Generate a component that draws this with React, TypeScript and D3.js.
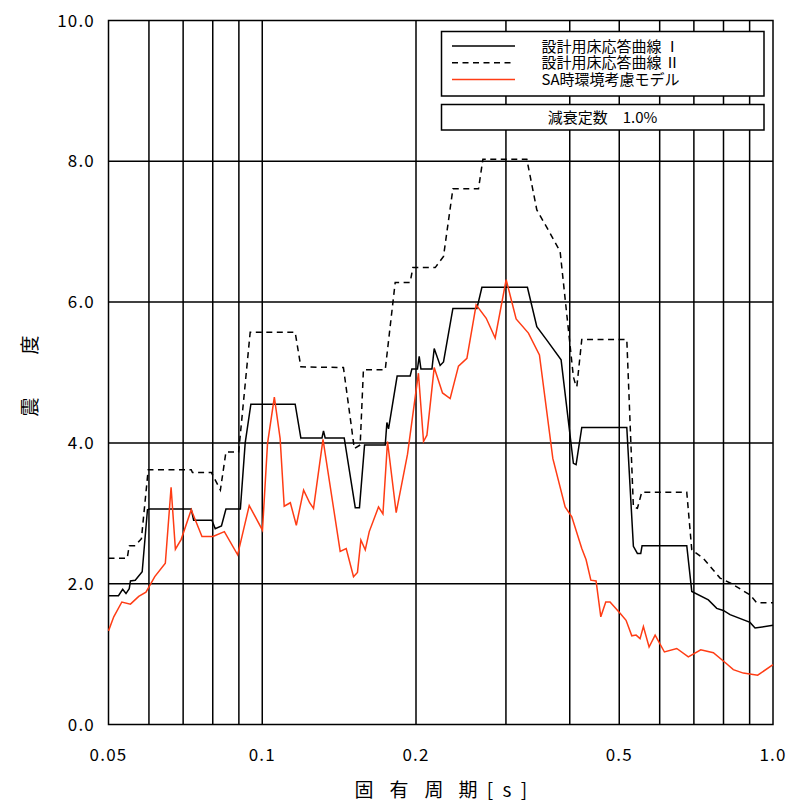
import React from "react";
import * as d3 from "d3";

const periodsI = [0.05,0.0523,0.0533,0.0541,0.0549,0.0552,0.0564,0.0582,0.0596,0.0602,0.0726,0.0734,0.0797,0.0809,0.0832,0.0849,0.0906,0.0926,0.095,0.116,0.119,0.1309,0.1318,0.1328,0.1447,0.1521,0.155,0.1586,0.1741,0.1754,0.1767,0.1837,0.1948,0.1963,0.2013,0.2029,0.2045,0.2149,0.2171,0.223,0.2264,0.2362,0.2632,0.2692,0.3305,0.3448,0.3607,0.3847,0.4066,0.4116,0.4223,0.5173,0.5329,0.5426,0.5509,0.5542,0.6779,0.6934,0.7472,0.776,0.7994,0.824,0.9016,0.9222,1.0];
const valuesI = [1.83,1.83,1.92,1.86,1.93,2.04,2.05,2.17,3.05,3.06,3.06,2.9,2.9,2.78,2.82,3.06,3.06,4.0,4.55,4.55,4.07,4.07,4.17,4.07,4.07,3.08,3.08,3.97,3.97,4.29,4.2,4.95,4.95,5.05,5.05,5.23,5.05,5.05,5.34,5.1,5.15,5.91,5.91,6.21,6.21,5.65,5.46,5.18,3.71,3.69,4.22,4.22,2.53,2.43,2.43,2.54,2.54,1.89,1.77,1.65,1.62,1.56,1.45,1.37,1.41];

const periodsII = [0.05,0.0544,0.0549,0.0564,0.058,0.0598,0.0726,0.073,0.0795,0.0828,0.0849,0.0899,0.0947,0.116,0.119,0.1442,0.1498,0.1514,0.1555,0.1578,0.1741,0.1821,0.1948,0.1972,0.2181,0.2264,0.2362,0.2651,0.2704,0.3296,0.3448,0.3633,0.383,0.4066,0.4116,0.413,0.4223,0.5173,0.5329,0.5426,0.5534,0.6779,0.6934,0.7305,0.7877,0.8302,0.9016,0.9292,1.0];
const valuesII = [2.36,2.36,2.54,2.54,2.64,3.62,3.62,3.58,3.58,3.33,3.87,3.87,5.57,5.57,5.08,5.07,4.18,3.92,3.97,5.04,5.04,6.28,6.28,6.49,6.49,6.65,7.61,7.61,8.03,8.03,7.31,7.02,6.72,4.94,4.8,4.8,5.47,5.47,3.09,3.07,3.3,3.3,2.48,2.36,2.08,2.0,1.84,1.73,1.73];

const periodsSA = [0.05,0.0512,0.0531,0.0552,0.0573,0.0592,0.0616,0.0646,0.0663,0.0676,0.0694,0.0726,0.0762,0.0801,0.0843,0.0895,0.0943,0.1001,0.1024,0.1056,0.1084,0.1104,0.1135,0.1166,0.1205,0.1238,0.126,0.1315,0.1421,0.146,0.1509,0.1536,0.156,0.1591,0.162,0.1689,0.1723,0.1759,0.1829,0.1925,0.2022,0.2069,0.2101,0.2171,0.2254,0.2333,0.2422,0.2516,0.2623,0.2745,0.2858,0.3003,0.3141,0.332,0.3489,0.3706,0.3918,0.4037,0.4223,0.4306,0.4399,0.4504,0.4601,0.4705,0.4797,0.5019,0.5156,0.5291,0.5395,0.5492,0.5575,0.572,0.5878,0.6129,0.648,0.6827,0.722,0.7643,0.8091,0.8362,0.8747,0.9333,1.0];
const valuesSA = [1.33,1.53,1.74,1.71,1.82,1.88,2.1,2.29,3.37,2.49,2.63,3.05,2.67,2.67,2.74,2.41,3.11,2.76,3.99,4.65,4.06,3.1,3.15,2.83,3.33,3.15,3.07,4.05,2.46,2.5,2.1,2.16,2.62,2.48,2.74,3.09,2.99,4.02,3.01,3.84,4.99,4.02,4.11,5.07,4.71,4.63,5.09,5.2,5.96,5.77,5.49,6.32,5.76,5.56,5.25,3.78,3.09,2.95,2.5,2.34,2.05,2.04,1.53,1.74,1.74,1.58,1.48,1.26,1.27,1.22,1.39,1.1,1.27,1.03,1.08,0.96,1.06,1.02,0.87,0.78,0.73,0.7,0.85];

const xGrid = [0.06,0.07,0.08,0.09,0.1,0.2,0.3,0.4,0.5,0.6,0.7,0.8,0.9];
const xTicks = [0.05,0.1,0.2,0.5,1.0];
const xTickLabels = ["0.05","0.1","0.2","0.5","1.0"];
const yTicks = [0,2,4,6,8,10];
const yTickLabels = ["0.0","2.0","4.0","6.0","8.0","10.0"];
const legendLabels = ["設計用床応答曲線 Ⅰ","設計用床応答曲線 Ⅱ","SA時環境考慮モデル"];
const dampingLabel = "減衰定数　1.0%";
const xTitleChars = ["固","有","周","期","[","s","]"];
const yTitleChars = ["震","度"];

const RED = "#ff3c14";
const FONT = "'Noto Sans CJK JP', 'Noto Sans', sans-serif";

export default function App() {
  const left = 108.5, right = 773, top = 20.5, bottom = 724.5;
  const x = d3.scaleLog().domain([0.05, 1]).range([left, right]);
  const y = d3.scaleLinear().domain([0, 10]).range([bottom, top]);
  const line = d3.line<[number, number]>().x(d => x(d[0])).y(d => y(d[1]));
  const mk = (p: number[], v: number[]) => line(p.map((t, i) => [t, v[i]] as [number, number])) || "";

  const legendStyles = [
    { stroke: "#000", dash: undefined as string | undefined },
    { stroke: "#000", dash: "6,4.5" },
    { stroke: RED, dash: undefined },
  ];
  const xTitleX = [364, 399, 434, 468, 490, 507, 524];
  const yTitleY = [407, 345];

  return (
    <svg width={793} height={805} style={{ position: "absolute", left: 0, top: 0, background: "#fff" }} fontFamily={FONT}>
      <rect x={0} y={0} width={793} height={805} fill="#fff" />
      {xGrid.map(t => (
        <line key={"gx" + t} x1={x(t)} x2={x(t)} y1={top} y2={bottom} stroke="#000" strokeWidth={1.5} />
      ))}
      {[2, 4, 6, 8].map(v => (
        <line key={"gy" + v} x1={left} x2={right} y1={y(v)} y2={y(v)} stroke="#000" strokeWidth={1.5} />
      ))}
      <rect x={left} y={top} width={right - left} height={bottom - top} fill="none" stroke="#000" strokeWidth={1.5} />

      <rect x={441.5} y={31.5} width={322.5} height={64.5} fill="#fff" stroke="#000" strokeWidth={1.5} />
      <rect x={441.5} y={104.5} width={322.5} height={25.5} fill="#fff" stroke="#000" strokeWidth={1.5} />
      {legendLabels.map((lab, i) => {
        const ly = 46 + i * 16.7;
        const s = legendStyles[i];
        return (
          <g key={lab}>
            <line x1={452} x2={515} y1={ly} y2={ly} stroke={s.stroke} strokeWidth={1.5} strokeDasharray={s.dash} />
            <text x={541.5} y={ly + 5.5} fontSize={15} fill="#000">{lab}</text>
          </g>
        );
      })}
      <text x={602.5} y={122.5} fontSize={15} textAnchor="middle" fill="#000">{dampingLabel}</text>

      <path d={mk(periodsII, valuesII)} fill="none" stroke="#000" strokeWidth={1.5} strokeDasharray="6,4.5" />
      <path d={mk(periodsI, valuesI)} fill="none" stroke="#000" strokeWidth={1.5} />
      <path d={mk(periodsSA, valuesSA)} fill="none" stroke={RED} strokeWidth={1.5} />

      {yTicks.map((v, i) => (
        <text key={"yl" + v} x={95} y={y(v)} dy="0.36em" textAnchor="end" fontSize={17} letterSpacing={1.2} fill="#000">{yTickLabels[i]}</text>
      ))}
      {xTicks.map((t, i) => (
        <text key={"xl" + t} x={x(t)} y={755} dy="0.36em" textAnchor="middle" fontSize={17} letterSpacing={1.2} fill="#000">{xTickLabels[i]}</text>
      ))}
      {xTitleChars.map((c, i) => (
        <text key={"xt" + i} x={xTitleX[i]} y={790} dy="0.36em" textAnchor="middle" fontSize={19} fill="#000">{c}</text>
      ))}
      {yTitleChars.map((c, i) => (
        <text key={"yt" + i} transform={`translate(30,${yTitleY[i]}) rotate(-90)`} dy="0.36em" textAnchor="middle" fontSize={19} fill="#000">{c}</text>
      ))}
    </svg>
  );
}
